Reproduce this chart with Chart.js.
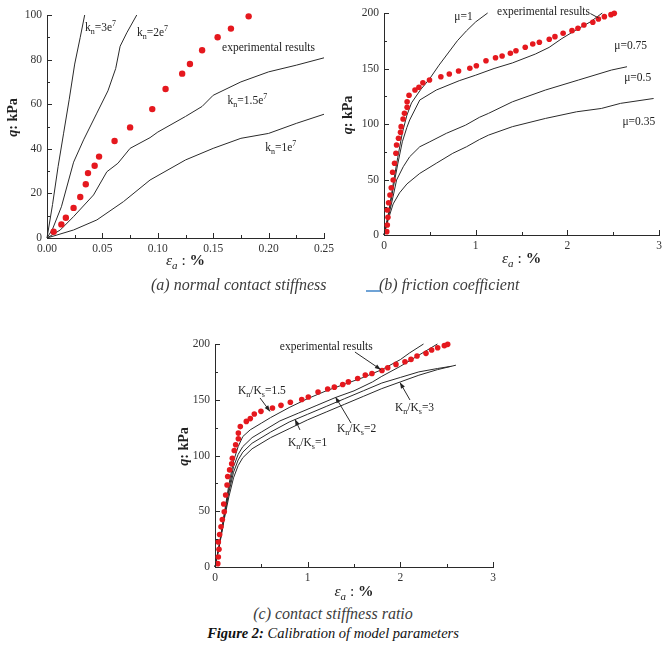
<!DOCTYPE html>
<html>
<head>
<meta charset="utf-8">
<script src="https://cdn.jsdelivr.net/npm/chart.js@4.4.0/dist/chart.umd.min.js"></script>
<style>
  body { margin: 0; background: #fff; width: 666px; height: 646px; position: relative; overflow: hidden; font-family: "Liberation Serif", serif; }
  canvas { position: absolute; }
  .cap { position: absolute; white-space: nowrap; font-style: italic; font-size: 16px; color: #3c3c3c; line-height: 1; }
  .fig { position: absolute; left: 0; width: 666px; text-align: center; font-style: italic; font-size: 14.5px; color: #111; line-height: 1; }
  .mark { position: absolute; left: 366px; top: 290px; width: 14px; height: 2px; background: #6fa3d6; }
</style>
</head>
<body>
<canvas id="chartA" width="340" height="278" style="left:0;top:0"></canvas>
<canvas id="chartB" width="331" height="278" style="left:335px;top:0"></canvas>
<canvas id="chartC" width="330" height="285" style="left:170px;top:320px"></canvas>
<div class="cap" style="left:151px;top:277px">(a) normal contact stiffness</div>
<div class="mark"></div>
<div class="cap" style="left:379px;top:277px">(b) friction coefficient</div>
<div class="cap" style="left:0;width:666px;text-align:center;top:606px">(c) contact stiffness ratio</div>
<div class="fig" style="top:626px"><b>Figure 2:</b> Calibration of model parameters</div>

<script>
const SERIF = '"Liberation Serif", "Times New Roman", serif';
const RED = "rgb(229,24,30)";
const INK = "#2a2a2a";

// (a) normal contact stiffness
const expA_x = [0.006, 0.013, 0.017, 0.024, 0.030, 0.035, 0.037, 0.043, 0.047, 0.061, 0.075, 0.095, 0.107, 0.122, 0.129, 0.140, 0.154, 0.166, 0.182];
const expA_q = [2.8, 6.1, 9.1, 13.5, 18.4, 24.1, 29.1, 32.4, 36.5, 43.5, 49.6, 57.8, 66.8, 73.7, 78.0, 84.2, 90.0, 93.9, 99.4];
const kn3_x = [0, 0.005, 0.01, 0.015, 0.02, 0.025, 0.03, 0.034];
const kn3_q = [0, 15, 32, 47, 62, 78, 90, 100];
const kn2_x = [0, 0.005, 0.013, 0.024, 0.033, 0.045, 0.055, 0.062, 0.066, 0.072, 0.081];
const kn2_q = [0, 4, 14, 34, 44, 56, 66, 76, 86, 92, 100];
const kn15_x = [0, 0.012, 0.024, 0.042, 0.054, 0.064, 0.075, 0.093, 0.10, 0.125, 0.14, 0.15, 0.175, 0.2, 0.225, 0.25];
const kn15_q = [0, 3.6, 9.6, 19.3, 29.7, 33.5, 40.2, 45, 47.5, 54.5, 59, 64, 70, 74.5, 77.5, 80.8];
const kn1_x = [0, 0.024, 0.045, 0.069, 0.093, 0.125, 0.15, 0.175, 0.2, 0.225, 0.25];
const kn1_q = [0, 3.6, 8.1, 16.3, 26, 35, 40.2, 44.7, 46.9, 51.4, 55.5];

// experimental results, used in (b) and (c)
const exp_x = [0.03, 0.036, 0.043, 0.036, 0.05, 0.065, 0.079, 0.10, 0.094, 0.115, 0.13, 0.137, 0.158, 0.18, 0.187, 0.208, 0.223, 0.252, 0.252, 0.273, 0.338, 0.381, 0.424, 0.496, 0.62, 0.712, 0.813, 0.936, 1.007, 1.112, 1.216, 1.288, 1.378, 1.439, 1.54, 1.622, 1.694, 1.802, 1.864, 1.953, 2.05, 2.115, 2.18, 2.277, 2.338, 2.403, 2.475, 2.511];
const exp_q = [3.0, 9.0, 15.9, 22.5, 29.1, 36.0, 42.6, 49.5, 56.5, 64.6, 73.6, 81.1, 87.1, 92.5, 97.6, 104.5, 109.6, 115.0, 120.1, 125.9, 130.6, 133.1, 137.2, 139.6, 142.6, 145.0, 147.7, 150.2, 152.5, 157.0, 159.7, 161.3, 163.7, 166.0, 169.1, 172.1, 173.6, 176.3, 178.7, 181.7, 184.1, 186.2, 189.2, 191.6, 194.6, 196.7, 198.5, 199.7];

// (b) friction coefficient
const mu1_x = [0, 0.05, 0.1, 0.15, 0.2, 0.25, 0.3, 0.4, 0.5, 0.6, 0.7, 0.8, 0.9, 1.0, 1.13];
const mu1_q = [0, 20, 46, 70, 92, 108, 119, 131, 141, 153, 164, 175, 184, 192, 200];
const mu075_x = [0, 0.05, 0.1, 0.15, 0.2, 0.25, 0.28, 0.39, 0.57, 0.82, 1.0, 1.2, 1.4, 1.65, 1.8, 1.94, 2.1, 2.25, 2.38];
const mu075_q = [0, 18, 42, 64, 84, 97, 103.6, 121.6, 130.6, 139, 144, 150, 155, 163, 169, 177, 185, 192, 200];
const mu05_x = [0, 0.05, 0.1, 0.137, 0.21, 0.28, 0.39, 0.5, 0.68, 0.89, 1.04, 1.14, 1.4, 1.76, 2.12, 2.48, 2.65];
const mu05_q = [0, 17, 35, 49.5, 61.5, 70.5, 79.5, 84, 91.6, 99, 106, 109.6, 120, 130.6, 139.6, 148.6, 151.6];
const mu035_x = [0, 0.05, 0.1, 0.17, 0.25, 0.39, 0.57, 0.75, 0.9, 1.04, 1.14, 1.4, 1.76, 2.1, 2.37, 2.58, 2.94];
const mu035_q = [0, 15, 28, 38, 46, 55.5, 64.6, 73.6, 79.5, 86, 90, 97.6, 105, 111, 114, 118.6, 123];

// (c) contact stiffness ratio
const r15_x = [0, 0.05, 0.1, 0.15, 0.2, 0.25, 0.3, 0.38, 0.5, 0.6, 0.8, 1.0, 1.2, 1.4, 1.6, 1.8, 2.0, 2.1, 2.25];
const r15_q = [0, 22, 48, 74, 95, 108, 117, 123, 129, 134, 143, 151, 158, 164, 170, 177, 186, 192, 200];
const r2_x = [0, 0.05, 0.1, 0.15, 0.2, 0.25, 0.3, 0.4, 0.5, 0.7, 0.9, 1.1, 1.3, 1.5, 1.7, 1.8, 2.0, 2.2, 2.4];
const r2_q = [0, 21, 46, 70, 90, 101, 108, 116, 121, 131, 138, 145, 152, 158, 166, 171, 180, 190, 200];
const r1_x = [0, 0.05, 0.1, 0.15, 0.2, 0.25, 0.3, 0.4, 0.6, 0.8, 1.0, 1.2, 1.4, 1.6, 1.8, 2.0, 2.2, 2.4, 2.55];
const r1_q = [0, 21, 45, 67, 85, 96, 103, 111, 121, 130, 137, 144, 151, 158, 165, 170, 175, 178, 180];
const r3_x = [0, 0.05, 0.1, 0.15, 0.2, 0.25, 0.3, 0.4, 0.6, 0.8, 1.0, 1.2, 1.4, 1.6, 1.8, 2.0, 2.2, 2.4, 2.6];
const r3_q = [0, 20, 43, 63, 80, 91, 98, 106, 116, 124, 132, 139, 146, 153, 160, 166, 172, 177, 181];

// tick labels
const ticksA_x = ["0.00", "0.05", "0.10", "0.15", "0.20", "0.25"];
const ticksA_q = ["0", "20", "40", "60", "80", "100"];
const ticksBC_x = ["0", "1", "2", "3"];
const ticksBC_q = ["0", "50", "100", "150", "200"];

// curve labels (data units, left edge / vertical middle)
const labelsA = [
  { text: "k_{n}=3e^{7}", x: 0.0343, q: 94.6 },
  { text: "k_{n}=2e^{7}", x: 0.0812, q: 92.4 },
  { text: "experimental results", x: 0.158, q: 85.7 },
  { text: "k_{n}=1.5e^{7}", x: 0.163, q: 61.9 },
  { text: "k_{n}=1e^{7}", x: 0.197, q: 40.8 }
];
const labelsB = [
  { text: "μ=1", x: 0.766, q: 196.7 },
  { text: "experimental results", x: 1.233, q: 201.5 },
  { text: "μ=0.75", x: 2.511, q: 171.2 },
  { text: "μ=0.5", x: 2.619, q: 142.1 },
  { text: "μ=0.35", x: 2.6, q: 102.1 }
];
const arrowsB = [{ x1: 2.25, q1: 199.5, x2: 2.34, q2: 195.5, head: false }];
const labelsC = [
  { text: "experimental results", x: 0.70, q: 198.2 },
  { text: "K_{n}/K_{s}=1.5", x: 0.248, q: 158.7 },
  { text: "K_{n}/K_{s}=1", x: 0.788, q: 112.1 },
  { text: "K_{n}/K_{s}=2", x: 1.317, q: 124.7 },
  { text: "K_{n}/K_{s}=3", x: 1.942, q: 143.5 }
];
const arrowsC = [
  { x1: 1.51, q1: 192.8, x2: 1.79, q2: 177, head: true },
  { x1: 0.486, q1: 151.6, x2: 0.594, q2: 139.5, head: true },
  { x1: 0.917, q1: 122.9, x2: 0.863, q2: 132.5, head: true },
  { x1: 1.468, q1: 129.1, x2: 1.30, q2: 152.5, head: true },
  { x1: 2.104, q1: 149.8, x2: 1.996, q2: 165.5, head: true }
];

function parseRich(s) {
  const parts = [];
  const re = /([_^])\{([^}]*)\}|([^_^]+)/g;
  let m;
  while ((m = re.exec(s))) {
    if (m[3]) parts.push({ t: m[3] });
    else parts.push({ t: m[2], sub: m[1] === "_", sup: m[1] === "^" });
  }
  return parts;
}

function drawRich(ctx, parts, x, y, size, align) {
  const fontFor = p => `${p.it ? "italic " : ""}${p.b ? "bold " : ""}${(p.sub || p.sup) ? Math.round(size * 0.68) : size}px ${SERIF}`;
  let w = 0;
  parts.forEach(p => { ctx.font = fontFor(p); w += ctx.measureText(p.t).width; });
  let cx = align === "center" ? x - w / 2 : x;
  ctx.textAlign = "left";
  ctx.textBaseline = "alphabetic";
  parts.forEach(p => {
    ctx.font = fontFor(p);
    const dy = p.sub ? size * 0.28 : p.sup ? -size * 0.38 : 0;
    ctx.fillText(p.t, cx, y + dy);
    cx += ctx.measureText(p.t).width;
  });
}

function deco(cfg) {
  return {
    id: "deco",
    afterDraw(chart) {
      const ctx = chart.ctx;
      const xs = chart.scales.x, ys = chart.scales.y;
      const a = chart.chartArea;
      ctx.save();
      ctx.strokeStyle = INK;
      ctx.lineWidth = 1;
      ctx.beginPath();
      // inward ticks, major + minor halfway
      const xt = xs.ticks.map(t => t.value);
      xt.forEach((v, i) => {
        const px = Math.round(xs.getPixelForValue(v)) + 0.5;
        ctx.moveTo(px, a.bottom); ctx.lineTo(px, a.bottom - 5);
        if (i < xt.length - 1) {
          const mx = Math.round(xs.getPixelForValue((v + xt[i + 1]) / 2)) + 0.5;
          ctx.moveTo(mx, a.bottom); ctx.lineTo(mx, a.bottom - 3);
        }
      });
      const yt = ys.ticks.map(t => t.value);
      yt.forEach((v, i) => {
        const py = Math.round(ys.getPixelForValue(v)) + 0.5;
        ctx.moveTo(a.left, py); ctx.lineTo(a.left + 5, py);
        if (i < yt.length - 1) {
          const my = Math.round(ys.getPixelForValue((v + yt[i + 1]) / 2)) + 0.5;
          ctx.moveTo(a.left, my); ctx.lineTo(a.left + 3, my);
        }
      });
      ctx.stroke();

      ctx.fillStyle = "#222";
      // x title
      drawRich(ctx, [{ t: "ε", it: true }, { t: "a", it: true, sub: true }, { t: " : " }, { t: "%", b: true }],
        (a.left + a.right) / 2, a.bottom + cfg.xTitleGap, 15.5, "center");
      // y title
      ctx.save();
      ctx.translate(a.left - cfg.yTitleGap, (a.top + a.bottom) / 2 - 9);
      ctx.rotate(-Math.PI / 2);
      drawRich(ctx, [{ t: "q", it: true, b: true }, { t: ": kPa", b: true }], 0, 5, 14, "center");
      ctx.restore();

      // curve labels
      cfg.labels.forEach(l => {
        drawRich(ctx, parseRich(l.text), xs.getPixelForValue(l.x), ys.getPixelForValue(l.q) + 3.8, 11.5, "left");
      });
      // arrows
      (cfg.arrows || []).forEach(ar => {
        const x1 = xs.getPixelForValue(ar.x1), y1 = ys.getPixelForValue(ar.q1);
        const x2 = xs.getPixelForValue(ar.x2), y2 = ys.getPixelForValue(ar.q2);
        ctx.beginPath();
        ctx.moveTo(x1, y1); ctx.lineTo(x2, y2);
        ctx.stroke();
        if (ar.head) {
          const ang = Math.atan2(y2 - y1, x2 - x1);
          ctx.beginPath();
          ctx.moveTo(x2, y2);
          ctx.lineTo(x2 - 6 * Math.cos(ang) + 2.2 * Math.sin(ang), y2 - 6 * Math.sin(ang) - 2.2 * Math.cos(ang));
          ctx.lineTo(x2 - 6 * Math.cos(ang) - 2.2 * Math.sin(ang), y2 - 6 * Math.sin(ang) + 2.2 * Math.cos(ang));
          ctx.closePath();
          ctx.fill();
        }
      });
      ctx.restore();
    }
  };
}

const line = (xs, qs) => ({
  data: xs.map((x, i) => ({ x, y: qs[i] })),
  showLine: true, pointRadius: 0, borderColor: INK, borderWidth: 1, fill: false, tension: 0, order: 1, clip: false
});
const dots = (xs, qs, r) => ({
  data: xs.map((x, i) => ({ x, y: qs[i] })),
  showLine: false, pointRadius: r, pointBackgroundColor: RED, pointBorderWidth: 0, borderWidth: 0, order: 0, clip: false
});

function axis(max, step, labels, isX, size) {
  return {
    type: "linear", min: 0, max,
    grid: { display: false, drawTicks: false },
    border: { display: true, color: INK, width: 1 },
    ticks: {
      stepSize: step, padding: isX ? 4 : 5, color: "#333", autoSkip: false, maxRotation: 0,
      font: { family: SERIF, size: 11.5 },
      callback: (v, i) => labels[i]
    },
    afterFit: s => { if (isX) s.height = size; else s.width = size; }
  };
}

function makeChart(id, datasets, cfg) {
  return new Chart(document.getElementById(id), {
    type: "scatter",
    data: { datasets },
    options: {
      responsive: false,
      animation: false,
      layout: { padding: { top: cfg.padTop, right: cfg.padRight, left: 0, bottom: 0 } },
      plugins: { legend: { display: false }, tooltip: { enabled: false } },
      scales: {
        x: axis(cfg.xMax, cfg.xStep, cfg.xLabels, true, cfg.xHeight),
        y: axis(cfg.yMax, cfg.yStep, cfg.yLabels, false, cfg.yWidth)
      }
    },
    plugins: [deco(cfg)]
  });
}

makeChart("chartA", [
  dots(expA_x, expA_q, 3.2),
  line(kn3_x, kn3_q), line(kn2_x, kn2_q), line(kn15_x, kn15_q), line(kn1_x, kn1_q)
], {
  xMax: 0.25, xStep: 0.05, xLabels: ticksA_x, yMax: 100, yStep: 20, yLabels: ticksA_q,
  padTop: 15, padRight: 16, xHeight: 40, yWidth: 47, yTitleGap: 35, xTitleGap: 27, labels: labelsA
});

makeChart("chartB", [
  dots(exp_x, exp_q, 2.8),
  line(mu1_x, mu1_q), line(mu075_x, mu075_q), line(mu05_x, mu05_q), line(mu035_x, mu035_q)
], {
  xMax: 3, xStep: 1, xLabels: ticksBC_x, yMax: 200, yStep: 50, yLabels: ticksBC_q,
  padTop: 13, padRight: 4, xHeight: 43, yWidth: 49, yTitleGap: 37, xTitleGap: 28, labels: labelsB, arrows: arrowsB
});

makeChart("chartC", [
  dots(exp_x, exp_q, 2.8),
  line(r15_x, r15_q), line(r2_x, r2_q), line(r1_x, r1_q), line(r3_x, r3_q)
], {
  xMax: 3, xStep: 1, xLabels: ticksBC_x, yMax: 200, yStep: 50, yLabels: ticksBC_q,
  padTop: 24, padRight: 7, xHeight: 38, yWidth: 45, yTitleGap: 32, xTitleGap: 29, labels: labelsC, arrows: arrowsC
});
</script>
</body>
</html>
